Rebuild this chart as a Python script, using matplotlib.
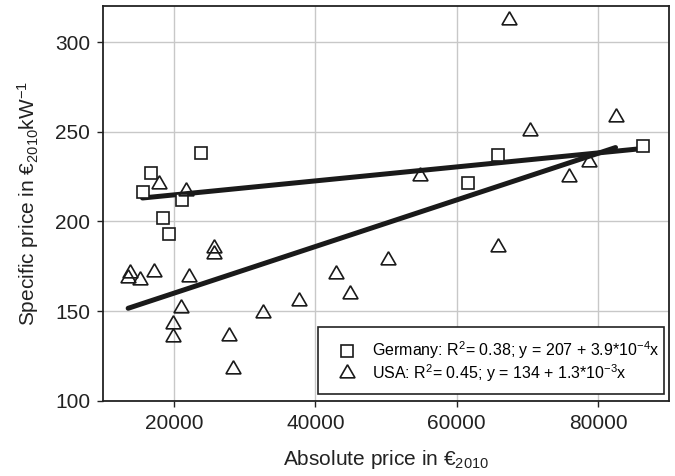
import numpy as np
import matplotlib.pyplot as plt
from matplotlib.patches import Rectangle

plt.rcParams['font.family'] = ['Liberation Sans', 'DejaVu Sans']
plt.rcParams['mathtext.fontset'] = 'custom'
plt.rcParams['mathtext.rm'] = 'Liberation Sans'
plt.rcParams['mathtext.it'] = 'Liberation Sans:italic'

# Germany: absolute price (EUR 2010) vs specific price (EUR 2010 / kW)
ger_abs = [23760, 16820, 15550, 21180, 18450, 19250, 65870, 61650, 86300]
ger_spec = [238.2, 226.8, 216.3, 212.0, 201.8, 192.8, 237.0, 221.5, 242.2]

# USA
usa_abs = [17850, 21650, 25730, 25730, 13760, 13520, 15170, 17140, 22110,
           21040, 19860, 19860, 27850, 28410, 32540, 37650, 42980, 44850,
           50200, 54750, 67420, 70420, 82450, 75840, 78650, 65870]
usa_spec = [220.6, 217.2, 185.2, 182.0, 171.0, 168.2, 167.2, 171.8, 169.0,
            151.5, 142.8, 135.4, 136.1, 118.0, 149.0, 155.4, 170.7, 159.8,
            178.3, 225.6, 312.2, 250.2, 258.0, 225.0, 233.0, 185.7]

# linear fits as given in the legend
ger_a, ger_b = 207, 3.9e-4
usa_a, usa_b = 134, 1.3e-3

fig = plt.figure(figsize=(6.75, 4.76), dpi=100)
ax = fig.add_axes([0.153, 0.158, 0.838, 0.829])

ax.grid(True, color='#c8c8c8', linewidth=1.0)
ax.set_axisbelow(True)

xg = np.array([min(ger_abs), max(ger_abs)])
xu = np.array([min(usa_abs), max(usa_abs)])
ax.plot(xg, ger_a + ger_b * xg, color='#1a1a1a', lw=3.6, solid_capstyle='round', zorder=2)
ax.plot(xu, usa_a + usa_b * xu, color='#1a1a1a', lw=3.6, solid_capstyle='round', zorder=2)

ax.plot(ger_abs, ger_spec, ls='none', marker='s', ms=9, mfc='white', mec='#1a1a1a', mew=1.2,
        zorder=3, label='Germany: R$\\mathregular{^2}$= 0.38; y = 207 + 3.9*10$\\mathregular{^{-4}}$x')
ax.plot(usa_abs, usa_spec, ls='none', marker=(3, 0, 0), ms=12.5, mfc='none', mec='#1a1a1a', mew=1.2,
        zorder=3, label='USA: R$\\mathregular{^2}$= 0.45; y = 134 + 1.3*10$\\mathregular{^{-3}}$x')

ax.set_xlim(10000, 90000)
ax.set_ylim(100, 320)
ax.set_xticks([20000, 40000, 60000, 80000])
ax.set_yticks([100, 150, 200, 250, 300])
ax.tick_params(labelsize=15, colors='#222222', length=4.5, width=1, direction='out', pad=5)
for s in ax.spines.values():
    s.set_color('#222222')
    s.set_linewidth(1.3)

ax.set_xlabel('Absolute price in €$\\mathregular{_{2010}}$', fontsize=15, color='#222222', labelpad=11)
ax.set_ylabel('Specific price in €$\\mathregular{_{2010}}$kW$\\mathregular{^{-1}}$', fontsize=15,
              color='#222222', labelpad=10)

# legend box: white panel with black border, entries placed inside it
ax.add_patch(Rectangle((0.3793, 0.0177), 0.6113, 0.1696, transform=ax.transAxes,
                       facecolor='white', edgecolor='#222222', lw=1.2, zorder=4))
leg = ax.legend(loc='center', bbox_to_anchor=(0.698, 0.0987), borderaxespad=0, fontsize=11.5,
                frameon=False, handletextpad=0.95, borderpad=0, labelspacing=0.05,
                handlelength=1.2)
leg.set_zorder(5)

fig.savefig('out.png', dpi=100)
